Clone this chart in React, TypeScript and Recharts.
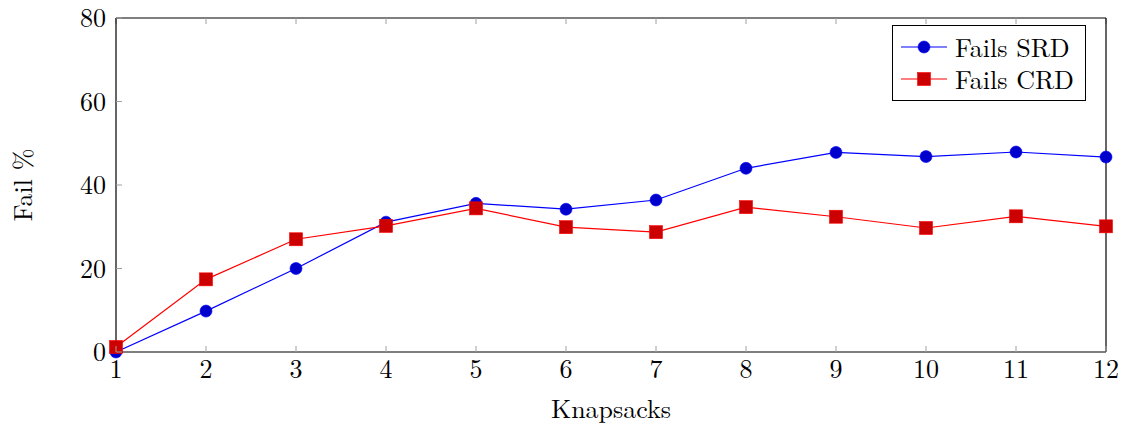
import { Line, LineChart, XAxis, YAxis } from "recharts";

const knapsacks = [1, 2, 3, 4, 5, 6, 7, 8, 9, 10, 11, 12];
const failsSRD = [0, 9.8, 20, 31.1, 35.6, 34.2, 36.4, 44, 47.8, 46.8, 47.9, 46.7];
const failsCRD = [1.2, 17.4, 27, 30.2, 34.4, 29.9, 28.7, 34.7, 32.4, 29.7, 32.5, 30.1];
const yTicks = [0, 20, 40, 60, 80];

const data = knapsacks.map((k, i) => ({ k, srd: failsSRD[i], crd: failsCRD[i] }));

const FONT = "Latin Modern Roman";
const FS = 26;
const TICK = "#a0a0a0";
const TL = 6;
const GAP = 10;
const FRAME = { stroke: "#000", strokeWidth: 1.2 };

const series = [
  { key: "srd", name: "Fails SRD", line: "#0000ff", fill: "#0000cc", mark: "circle" },
  { key: "crd", name: "Fails CRD", line: "#ff0000", fill: "#cc0000", mark: "square" },
];

function Marker({ cx, cy, s }: any) {
  if (cx == null || cy == null) return null;
  if (s.mark === "circle") {
    return <circle cx={cx} cy={cy} r={6} fill={s.fill} stroke={s.line} strokeWidth={0.6} />;
  }
  return <rect x={cx - 6.5} y={cy - 6.5} width={13} height={13} fill={s.fill} stroke={s.line} strokeWidth={0.6} />;
}

const BottomTick = ({ x, y, payload }: any) => (
  <g>
    <line x1={x} x2={x} y1={y - GAP} y2={y - GAP - TL} stroke={TICK} strokeWidth={1} />
    <text x={x} y={y + 16} textAnchor="middle" fontSize={FS} fontFamily={FONT} fill="#000">
      {payload.value}
    </text>
  </g>
);

const LeftTick = ({ x, y, payload }: any) => (
  <g>
    <line x1={x + GAP} x2={x + GAP + TL} y1={y} y2={y} stroke={TICK} strokeWidth={1} />
    <text x={x} y={y + 9} textAnchor="end" fontSize={FS} fontFamily={FONT} fill="#000">
      {payload.value}
    </text>
  </g>
);

function LegendBox() {
  return (
    <div
      style={{
        position: "absolute",
        left: 892,
        top: 25,
        border: "1.3px solid #000",
        background: "#fff",
        width: 192,
        height: 69,
        fontFamily: FONT,
        fontSize: FS,
        paddingTop: 5,
        paddingBottom: 0,
      }}
    >
      {series.map((s) => (
        <div key={s.key} style={{ display: "flex", alignItems: "center", height: 32.3 }}>
          <svg width={54} height={20} style={{ marginLeft: 8 }}>
            <line x1={0} x2={46} y1={10} y2={10} stroke={s.line} strokeWidth={1.2} />
            <Marker cx={23} cy={10} s={s} />
          </svg>
          <span style={{ whiteSpace: "nowrap", lineHeight: 1 }}>{s.name}</span>
        </div>
      ))}
    </div>
  );
}

export default function App() {
  return (
    <div style={{ position: "absolute", left: 0, top: 0, width: 1127, height: 425, background: "#fff" }}>
      <LineChart width={1127} height={425} data={data} margin={{ top: 18, right: 21, left: 0, bottom: 0 }}>
        <XAxis
          dataKey="k"
          type="number"
          domain={[1, 12]}
          ticks={knapsacks}
          height={73}
          tickSize={0}
          tickMargin={GAP}
          tick={<BottomTick />}
          axisLine={FRAME}
          tickLine={false}
          label={{
            content: ({ viewBox }: any) => (
              <text
                x={viewBox.x + viewBox.width / 2}
                y={viewBox.y + 66}
                textAnchor="middle"
                fontSize={FS}
                fontFamily={FONT}
              >
                Knapsacks
              </text>
            ),
          }}
        />
        <XAxis
          xAxisId="top"
          orientation="top"
          mirror
          dataKey="k"
          type="number"
          domain={[1, 12]}
          ticks={knapsacks}
          tickSize={TL}
          tickFormatter={() => ""}
          axisLine={FRAME}
          tickLine={{ stroke: TICK, strokeWidth: 1 }}
        />
        <YAxis
          type="number"
          domain={[0, 80]}
          ticks={yTicks}
          width={116}
          tickSize={0}
          tickMargin={GAP}
          tick={<LeftTick />}
          axisLine={FRAME}
          tickLine={false}
          label={{
            content: ({ viewBox }: any) => {
              const cx = viewBox.x + 32;
              const cy = viewBox.y + viewBox.height / 2;
              return (
                <text
                  x={cx}
                  y={cy}
                  transform={`rotate(-90 ${cx} ${cy})`}
                  textAnchor="middle"
                  fontSize={FS}
                  fontFamily={FONT}
                >
                  Fail %
                </text>
              );
            },
          }}
        />
        <YAxis
          yAxisId="right"
          orientation="right"
          mirror
          type="number"
          domain={[0, 80]}
          ticks={yTicks}
          tickSize={TL}
          tickFormatter={() => ""}
          axisLine={FRAME}
          tickLine={{ stroke: TICK, strokeWidth: 1 }}
        />
        {series.map((s) => (
          <Line
            key={s.key}
            type="linear"
            dataKey={s.key}
            name={s.name}
            stroke={s.line}
            strokeWidth={1.2}
            dot={(p: any) => <Marker key={p.index} cx={p.cx} cy={p.cy} s={s} />}
            activeDot={false}
            isAnimationActive={false}
          />
        ))}
      </LineChart>
      <LegendBox />
    </div>
  );
}
